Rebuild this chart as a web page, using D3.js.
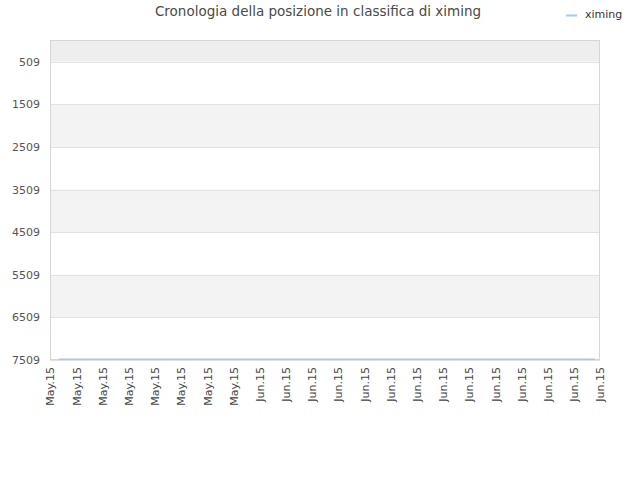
<!DOCTYPE html>
<html><head><meta charset="utf-8">
<script src="https://cdn.jsdelivr.net/npm/d3@7"></script>
<style>body{margin:0;background:#fff;}svg{display:block;font-family:"DejaVu Sans",sans-serif;}</style>
</head><body><svg id="c" width="640" height="480"></svg>
<script>
const title = "Cronologia della posizione in classifica di ximing";
const seriesName = "ximing";
const xTickLabels = ["May.15","May.15","May.15","May.15","May.15","May.15","May.15","May.15",
  "Jun.15","Jun.15","Jun.15","Jun.15","Jun.15","Jun.15","Jun.15","Jun.15","Jun.15","Jun.15","Jun.15","Jun.15","Jun.15","Jun.15"];
const yTicks = [509,1509,2509,3509,4509,5509,6509,7509];
const dates = ["2015-05-16T17:00","2015-05-20T17:00","2015-05-25T17:00","2015-05-30T17:00","2015-06-04T17:00",
  "2015-06-09T17:00","2015-06-14T17:00","2015-06-19T17:00","2015-06-24T17:00","2015-06-28T14:00"];
const ranks = [7509,7509,7509,7509,7509,7509,7509,7509,7509,7509];
const xDomain = ["2015-05-16T00:00","2015-06-29T00:00"];
const yDomain = [0,7509];

const svg = d3.select("#c");
const L=50,R=600,T=40,B=360;
const parse = d3.timeParse("%Y-%m-%dT%H:%M");
const x = d3.scaleTime().domain(xDomain.map(parse)).range([L,R]);
const xi = d3.scaleLinear().domain([0,xTickLabels.length-1]).range([L,R]);
const y = d3.scaleLinear().domain(yDomain).range([T,B]);

// bands
const bandEdges = [yDomain[0]].concat(yTicks);
for(let i=0;i<bandEdges.length-1;i++){
  const fill = i===0 ? "#eeeeee" : (i%2===0 ? "#f3f3f3" : "#ffffff");
  svg.append("rect").attr("x",L).attr("y",y(bandEdges[i])).attr("width",R-L)
    .attr("height",y(bandEdges[i+1])-y(bandEdges[i])).attr("fill",fill);
}
// grid lines
svg.append("g").selectAll("line").data(yTicks).join("line")
  .attr("x1",L).attr("x2",R).attr("y1",d=>Math.round(y(d))+0.5).attr("y2",d=>Math.round(y(d))+0.5)
  .attr("stroke","#e2e2e2");
// frame
svg.append("rect").attr("x",L+0.5).attr("y",T+0.5).attr("width",R-L-1).attr("height",B-T-1)
  .attr("fill","none").attr("stroke","#d6d6d6");

// y labels
const yAxis = svg.append("g").attr("transform",`translate(${L},0)`)
  .call(d3.axisLeft(y).tickValues(yTicks).tickSize(0).tickPadding(10).tickFormat(d3.format("d")));
yAxis.select(".domain").remove();
yAxis.selectAll("text").attr("fill","#555").style("font-size","11px").style("font-family","DejaVu Sans");

// x labels
const xAxis = svg.append("g").attr("transform",`translate(0,${B})`)
  .call(d3.axisBottom(xi).tickValues(d3.range(xTickLabels.length)).tickSize(0).tickFormat(i=>xTickLabels[i]));
xAxis.select(".domain").remove();
xAxis.selectAll("text").attr("fill","#444").style("font-size","11px").style("font-family","DejaVu Sans")
  .attr("text-anchor","end").attr("transform","rotate(-90)").attr("x",-7).attr("y",0).attr("dy","0.35em");

// line
const data = dates.map((d,i)=>({d:parse(d),v:ranks[i]}));
svg.append("path").datum(data).attr("fill","none").attr("stroke","#a6c8ec").attr("stroke-width",1.5)
  .attr("d",d3.line().x(d=>x(d.d)).y(d=>y(d.v)-0.75));

// title
svg.append("text").attr("x",318).attr("y",16).attr("text-anchor","middle").attr("fill","#4a4a4a")
  .style("font-size","13.5px").text(title);
// legend
svg.append("line").attr("x1",566).attr("x2",577).attr("y1",15.5).attr("y2",15.5).attr("stroke","#a6c8ec").attr("stroke-width",2);
svg.append("text").attr("x",585).attr("y",18).attr("fill","#333").style("font-size","11px").text(seriesName);
</script></body></html>
